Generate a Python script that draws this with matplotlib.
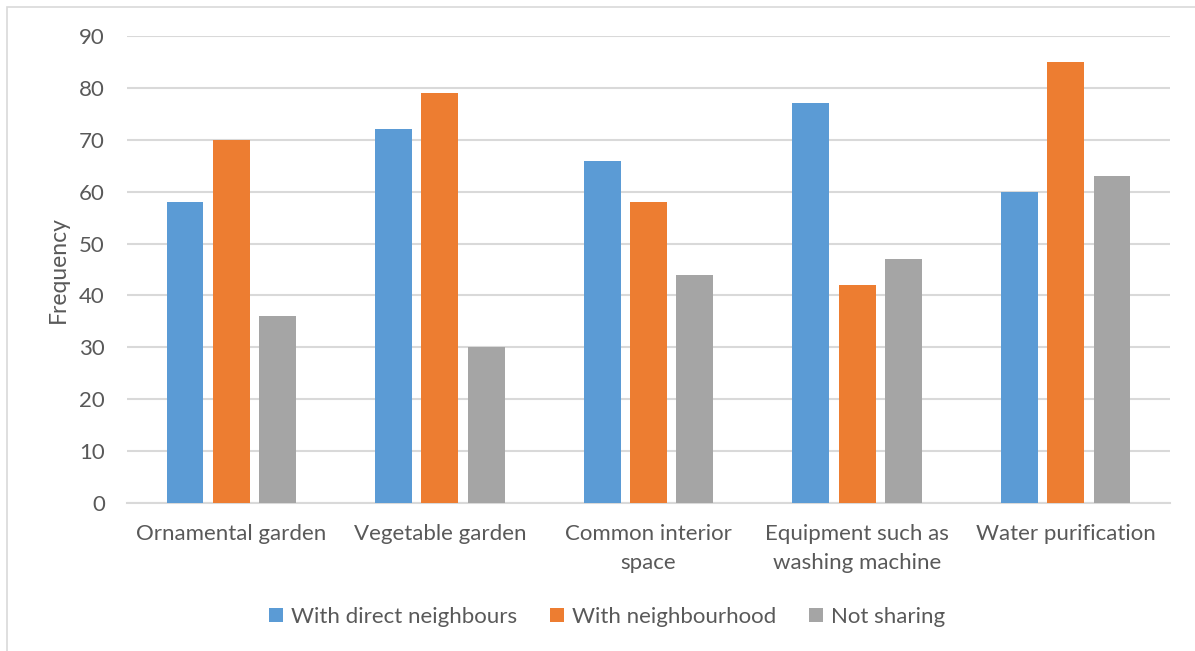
import matplotlib
matplotlib.use("Agg")
import matplotlib.pyplot as plt
import numpy as np
from matplotlib.patches import Rectangle

categories = ["Ornamental garden", "Vegetable garden", "Common interior\nspace",
              "Equipment such as\nwashing machine", "Water purification"]
series_names = ["With direct neighbours", "With neighbourhood", "Not sharing"]
direct_neighbours = [58, 72, 66, 77, 60]
neighbourhood = [70, 79, 58, 42, 85]
not_sharing = [36, 30, 44, 47, 63]
y_ticks = [0, 10, 20, 30, 40, 50, 60, 70, 80, 90]

colors = ["#5b9bd5", "#ed7d31", "#a5a5a5"]
text_color = "#595959"
grid_color = "#d9d9d9"

plt.rcParams["font.family"] = ["Lato", "DejaVu Sans"]

fig = plt.figure(figsize=(11.95, 6.51), dpi=100)
ax = fig.add_axes([127 / 1195, 1 - 503 / 651, (1170 - 127) / 1195, (503 - 36) / 651])

# chart frame
fig.patches.append(Rectangle((7 / 1195, -0.01), 1.0, 1 - 7 / 651 + 0.01,
                             transform=fig.transFigure, fill=False,
                             edgecolor="#d9d9d9", linewidth=1.2))

x = np.arange(len(categories))
width = 0.177
step = 0.222
for i, (vals, name) in enumerate(zip([direct_neighbours, neighbourhood, not_sharing], series_names)):
    ax.bar(x + (i - 1) * step, vals, width, color=colors[i], label=name, zorder=3)

ax.set_xlim(-0.5, len(categories) - 0.5)
ax.set_ylim(0, 90)
ax.set_yticks(y_ticks)
ax.yaxis.grid(True, color=grid_color, linewidth=1.5, zorder=0)
ax.set_axisbelow(True)
for s in ["top", "right", "left"]:
    ax.spines[s].set_visible(False)
ax.spines["bottom"].set_color(grid_color)
ax.spines["bottom"].set_linewidth(1.5)
ax.tick_params(axis="both", length=0, colors=text_color, labelsize=16)
ax.tick_params(axis="y", pad=16)
ax.tick_params(axis="x", pad=15)
ax.set_xticks(x)
ax.set_xticklabels(categories, linespacing=1.6, va="top")
ax.set_ylabel("Frequency", color=text_color, fontsize=16.5, labelpad=7)

fig.legend(loc="center", bbox_to_anchor=(607 / 1195, 1 - 617 / 651), ncol=3,
           frameon=False, fontsize=16, labelcolor=text_color,
           handlelength=0.62, handleheight=0.62, handletextpad=0.35, columnspacing=1.5)

fig.savefig("out.png", dpi=100)
